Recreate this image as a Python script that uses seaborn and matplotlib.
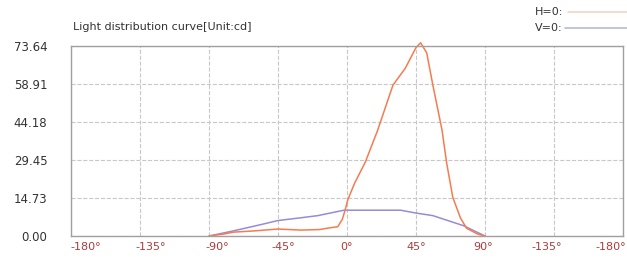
import numpy as np
import pandas as pd
import matplotlib
matplotlib.use("Agg")
import matplotlib.pyplot as plt
import matplotlib.transforms as mtransforms
import seaborn as sns
from matplotlib.lines import Line2D

# H=0 curve (orange)
h_angles = [-90, -80, -74, -60, -45, -30, -18, -12, -6, -3, -1, 0.5, 5, 12, 20, 30, 38, 45, 48, 52, 56, 62, 65, 69, 74, 78, 85, 90]
h_values = [0, 0.8, 1.5, 2.0, 2.7, 2.3, 2.5, 3.1, 3.6, 6.5, 10.5, 14.0, 20.5, 28.7, 41, 58.5, 65, 73, 74.9, 71, 58.5, 41, 28.3, 15, 7, 3, 0.8, 0]

# V=0 curve (purple)
v_angles = [-90, -74, -57, -45, -31, -19, -2, 35, 45, 56, 76, 90]
v_values = [0, 2.0, 4.3, 6.0, 7.0, 7.9, 10.0, 10.0, 8.9, 7.9, 4.0, 0]

x_ticks = [-180, -135, -90, -45, 0, 45, 90, 135, 180]
x_labels = ["-180°", "-135°", "-90°", "-45°", "0°", "45°", "90°", "-135°", "-180°"]
y_ticks = [0.00, 14.73, 29.45, 44.18, 58.91, 73.64]

sns.set_style("white")
plt.rcParams["font.family"] = ["DejaVu Sans"]

fig = plt.figure(figsize=(6.27, 2.62), dpi=100)
ax = fig.add_axes([0.1132, 0.0992, 0.8804, 0.7252])

h_df = pd.DataFrame({"angle": h_angles, "cd": h_values})
v_df = pd.DataFrame({"angle": v_angles, "cd": v_values})
sns.lineplot(data=v_df, x="angle", y="cd", ax=ax, color="#9a8ad6", lw=1.1)
sns.lineplot(data=h_df, x="angle", y="cd", ax=ax, color="#f47c50", lw=1.1, clip_on=False)

ax.set_xlim(-180, 180)
ax.set_ylim(0, 73.64)
ax.set_xticks(x_ticks)
ax.set_xticklabels(x_labels, color="#b03a3a", fontsize=8)
ax.set_yticks(y_ticks)
ax.set_yticklabels([f"{v:.2f}" for v in y_ticks], color="#333333", fontsize=8.5)
ax.set_xlabel("")
ax.set_ylabel("")
ax.tick_params(axis="x", length=0, pad=4)
ax.tick_params(axis="y", length=0, pad=17)
ax.grid(True, ls="--", color="#c8c8c8", lw=0.8)
for s in ax.spines.values():
    s.set_color("#a0a0a0")
    s.set_linewidth(1.0)

# x labels are spread slightly inward in the original
shifts = [15, 11, 8.5, 5, 0, 0, -2, -7, -12]
for lab, dx in zip(ax.get_xticklabels(), shifts):
    lab.set_transform(lab.get_transform() + mtransforms.ScaledTranslation(dx / 100, 0, fig.dpi_scale_trans))

fig.text(73 / 627, 1 - 27 / 262, "Light distribution curve[Unit:cd]", fontsize=8, color="#333333", va="center")

# legend-like labels at top right
fig.text(563 / 627, 1 - 12 / 262, "H=0:", fontsize=8, color="#333333", ha="right", va="center")
fig.text(563 / 627, 1 - 28 / 262, "V=0:", fontsize=8, color="#333333", ha="right", va="center")
fig.add_artist(Line2D([568 / 627, 627 / 627], [1 - 12 / 262] * 2, color="#f5d3c8", lw=1.2))
fig.add_artist(Line2D([565 / 627, 627 / 627], [1 - 28 / 262] * 2, color="#b4bad2", lw=1.2))

fig.savefig("out.png", dpi=100)
